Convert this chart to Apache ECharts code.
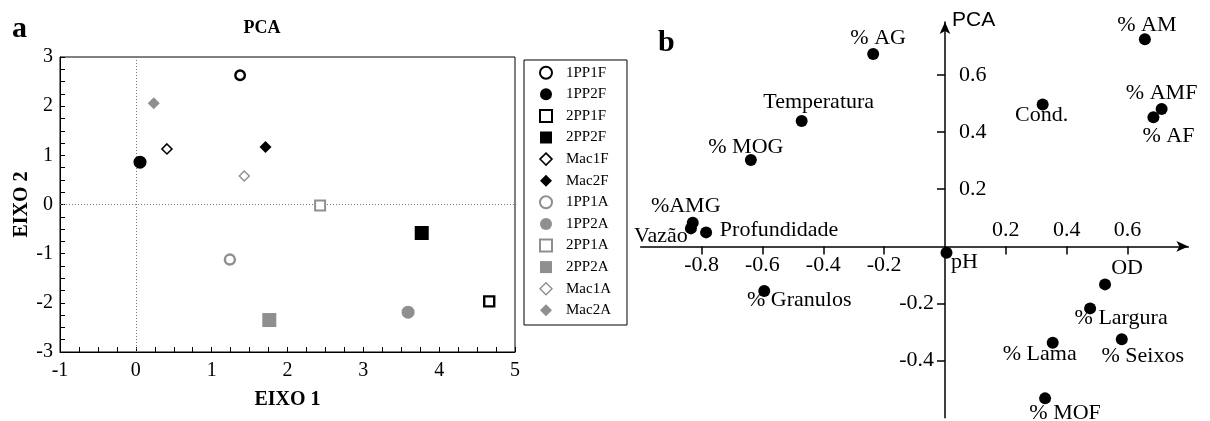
<!DOCTYPE html>
<html>
<head>
<meta charset="utf-8">
<script src="https://cdn.jsdelivr.net/npm/echarts@6/dist/echarts.min.js"></script>
<style>
  html, body { margin: 0; padding: 0; background: #fff; }
  #chart { width: 1210px; height: 421px; }
</style>
</head>
<body>
<div id="chart"></div>
<script>
// ---- Panel a: sample scores on the first two PCA axes ----
const amostras = ['1PP1F', '1PP2F', '2PP1F', '2PP2F', 'Mac1F', 'Mac2F',
                  '1PP1A', '1PP2A', '2PP1A', '2PP2A', 'Mac1A', 'Mac2A'];
const eixo1 = [1.375, 0.055, 4.66, 3.77, 0.41, 1.71, 1.24, 3.59, 2.43, 1.76, 1.43, 0.236];
const eixo2 = [2.63, 0.86, -1.97, -0.58, 1.13, 1.17, -1.12, -2.19, -0.02, -2.35, 0.58, 2.06];

// ---- Panel b: variable loadings ----
const variaveis = ['% AG', 'Temperatura', '% MOG', '%AMG', 'Vazão', 'Profundidade', '% Granulos',
                   'pH', '% AM', 'Cond.', '% AMF', '% AF', 'OD', '% Largura', '% Lama', '% Seixos', '% MOF'];
const carga1 = [-0.236, -0.471, -0.638, -0.829, -0.835, -0.785, -0.594,
                0.005, 0.657, 0.321, 0.712, 0.685, 0.526, 0.477, 0.354, 0.581, 0.329];
const carga2 = [0.673, 0.439, 0.302, 0.083, 0.063, 0.049, -0.156,
                -0.022, 0.725, 0.497, 0.481, 0.452, -0.133, -0.217, -0.337, -0.325, -0.532];

// tick values for panel b axes
const ticksXNeg = [-0.8, -0.6, -0.4, -0.2];
const ticksXPos = [0.2, 0.4, 0.6];
const ticksYNeg = [-0.4, -0.2];
const ticksYPos = [0.2, 0.4, 0.6];

// ---- styling ----
const SERIF = 'Liberation Serif';
const SANS = 'Liberation Sans';
const GREY = '#8f8f8f';

// marker look for each sample (symbol, fill colour, stroke colour, size, stroke width)
const markerStyles = [
  ['circle', '#fff', '#000', 9.5, 2.4],
  ['circle', '#000', '#000', 13, 0],
  ['rect', '#fff', '#000', 10, 2.4],
  ['rect', '#000', '#000', 14, 0],
  ['diamond', '#fff', '#000', 10, 1.6],
  ['diamond', '#000', '#000', 12, 0],
  ['circle', '#fff', GREY, 10, 2.4],
  ['circle', GREY, GREY, 13, 0],
  ['rect', '#fff', GREY, 10, 2],
  ['rect', GREY, GREY, 14, 0],
  ['diamond', '#fff', GREY, 10, 1.4],
  ['diamond', GREY, GREY, 12, 0]
];

// label placement around each loading point [dx, dy]
const labelShift = [
  [5, -16], [17, -19], [-5, -13], [-7, -16], [-30, 8], [73, -2], [35, 9],
  [18, 10], [2, -14], [-1, 11], [0, -16], [15, 19], [22, -16], [31, 10],
  [-13, 12], [21, 17], [20, 15]
];

// distance of the panel b tick labels from the axis lines crossing at the origin
const GAP_X_NEG = 8, GAP_X_POS = 5, GAP_Y_NEG = 11, GAP_Y_POS = 14;

const fmt = v => (Math.round(v * 10) / 10).toFixed(1);

const sampleSeries = amostras.map((name, i) => {
  const [sym, fill, stroke, size, bw] = markerStyles[i];
  const s = {
    name: name,
    type: 'scatter',
    xAxisIndex: 0,
    yAxisIndex: 0,
    symbol: sym,
    symbolSize: size,
    itemStyle: { color: fill, borderColor: stroke, borderWidth: bw, opacity: 1 },
    emphasis: { disabled: true },
    data: [[eixo1[i], eixo2[i]]],
    z: 3
  };
  if (i === 0) {
    s.markLine = {
      silent: true,
      symbol: 'none',
      label: { show: false },
      lineStyle: { color: '#777', type: [1, 2], width: 1 },
      data: [{ xAxis: 0 }, { yAxis: 0 }],
      z: 1
    };
  }
  return s;
});

const legendData = amostras.map((name, i) => {
  const [sym, fill, stroke, size, bw] = markerStyles[i];
  return {
    name: name,
    icon: sym,
    itemStyle: { color: fill, borderColor: stroke, borderWidth: bw > 0 ? Math.min(bw, 2) : 0 }
  };
});

const loadingData = variaveis.map((name, i) => ({
  name: name,
  value: [carga1[i], carga2[i]]
}));

const chart = echarts.init(document.getElementById('chart'), null, { renderer: 'canvas' });

const labelFont = { fontFamily: SERIF, fontSize: 22, color: '#000' };

chart.setOption({
  animation: false,
  backgroundColor: '#fff',
  title: [
    { text: 'a', left: 12, top: 14, padding: 0, textStyle: { fontFamily: SERIF, fontWeight: 'bold', fontSize: 30, color: '#000' } },
    { text: 'PCA', left: 262, top: 19, padding: 0, textAlign: 'center', textStyle: { fontFamily: SERIF, fontWeight: 'bold', fontSize: 18, color: '#000' } },
    { text: 'b', left: 658, top: 28, padding: 0, textStyle: { fontFamily: SERIF, fontWeight: 'bold', fontSize: 30, color: '#000' } },
    { text: 'PCA', left: 952, top: 10, padding: 0, textStyle: { fontFamily: SANS, fontWeight: 'normal', fontSize: 21, color: '#000' } }
  ],
  legend: {
    orient: 'vertical',
    left: 524,
    top: 60,
    padding: [5.2, 16, 7.2, 15],
    itemWidth: 12,
    itemHeight: 12,
    itemGap: 6.6,
    borderColor: '#000',
    borderWidth: 1,
    selectedMode: false,
    textStyle: { fontFamily: SERIF, fontSize: 15, color: '#000', padding: [0, 0, 0, 9] },
    data: legendData
  },
  grid: [
    { left: 60, right: 695, top: 57, bottom: 69, show: true, borderColor: '#000', borderWidth: 1,
      backgroundColor: 'transparent', containLabel: false, outerBoundsMode: 'none' },
    { left: 640.7, right: 21.6, top: 22.1, bottom: 3.2, show: false, containLabel: false, outerBoundsMode: 'none' }
  ],
  xAxis: [
    {
      gridIndex: 0, type: 'value', min: -1, max: 5, interval: 1,
      name: 'EIXO 1', nameLocation: 'middle', nameGap: 38,
      nameTextStyle: { fontFamily: SERIF, fontWeight: 'bold', fontSize: 20, color: '#000' },
      axisLine: { show: true, onZero: false, lineStyle: { color: '#000', width: 1 } },
      axisTick: { show: true, inside: true, length: 5, lineStyle: { color: '#000' } },
      minorTick: { show: true, splitNumber: 4, length: 5, lineStyle: { color: '#000' } },
      axisLabel: { fontFamily: SERIF, fontSize: 20, color: '#000', margin: 9 },
      splitLine: { show: false }, minorSplitLine: { show: false }
    },
    {
      gridIndex: 1, type: 'value', min: -1, max: 0.8, interval: 0.2, position: 'bottom',
      axisLine: { show: true, onZero: true, onZeroAxisIndex: 1, symbol: ['none', 'arrow'], symbolSize: [8, 12],
                  lineStyle: { color: '#000', width: 1.5 } },
      axisTick: { show: true, inside: false, length: 8, customValues: ticksXNeg.concat(ticksXPos), lineStyle: { color: '#000', width: 1.5 } },
      axisLabel: Object.assign({ customValues: ticksXNeg, formatter: fmt, margin: 8 }, labelFont),
      splitLine: { show: false }
    },
    {
      gridIndex: 1, type: 'value', min: -1, max: 0.8, interval: 0.2, position: 'top',
      axisLine: { show: false, onZero: true, onZeroAxisIndex: 1 },
      axisTick: { show: false },
      axisLabel: Object.assign({ customValues: ticksXPos, formatter: fmt, margin: 5 }, labelFont),
      splitLine: { show: false }
    }
  ],
  yAxis: [
    {
      gridIndex: 0, type: 'value', min: -3, max: 3, interval: 1,
      name: 'EIXO 2', nameLocation: 'middle', nameGap: 28,
      nameTextStyle: { fontFamily: SERIF, fontWeight: 'bold', fontSize: 20, color: '#000' },
      axisLine: { show: true, onZero: false, lineStyle: { color: '#000', width: 1 } },
      axisTick: { show: true, inside: true, length: 5, lineStyle: { color: '#000' } },
      minorTick: { show: true, splitNumber: 4, length: 5, lineStyle: { color: '#000' } },
      axisLabel: { fontFamily: SERIF, fontSize: 20, color: '#000', margin: 7 },
      splitLine: { show: false }, minorSplitLine: { show: false }
    },
    {
      gridIndex: 1, type: 'value', min: -0.6, max: 0.785, interval: 0.2, position: 'left',
      axisLine: { show: true, onZero: true, onZeroAxisIndex: 1, symbol: ['none', 'arrow'], symbolSize: [8, 12],
                  lineStyle: { color: '#000', width: 1.5 } },
      axisTick: { show: true, inside: false, length: 8, customValues: ticksYNeg.concat(ticksYPos), lineStyle: { color: '#000', width: 1.5 } },
      axisLabel: Object.assign({ customValues: ticksYNeg, formatter: fmt, margin: 11 }, labelFont),
      splitLine: { show: false }
    },
    {
      gridIndex: 1, type: 'value', min: -0.6, max: 0.785, interval: 0.2, position: 'right',
      axisLine: { show: false, onZero: true, onZeroAxisIndex: 1 },
      axisTick: { show: false },
      axisLabel: Object.assign({ customValues: ticksYPos, formatter: fmt, margin: 14 }, labelFont),
      splitLine: { show: false }
    }
  ],
  series: sampleSeries.concat([
    {
      name: 'cargas',
      type: 'scatter',
      xAxisIndex: 1,
      yAxisIndex: 1,
      symbol: 'circle',
      symbolSize: 12,
      itemStyle: { color: '#000', opacity: 1 },
      emphasis: { disabled: true },
      label: Object.assign({ show: true, position: 'inside', formatter: p => p.name }, labelFont),
      labelLayout: p => ({
        dx: labelShift[p.dataIndex][0],
        dy: labelShift[p.dataIndex][1],
        hideOverlap: false
      }),
      data: loadingData,
      z: 3
    }
  ])
});

// Tick labels of an onZero axis stay at the grid edge, so shift them
// back next to the axis lines that cross at the origin.
const finder = { xAxisIndex: 1, yAxisIndex: 1 };
const origin = chart.convertToPixel(finder, [0, 0]);
const lowCorner = chart.convertToPixel(finder, [-1, -0.6]);
const highCorner = chart.convertToPixel(finder, [0.8, 0.785]);
const leftEdge = lowCorner[0], bottomEdge = lowCorner[1];
const rightEdge = highCorner[0], topEdge = highCorner[1];

chart.setOption({
  xAxis: [
    {},
    { axisLabel: { margin: (origin[1] + GAP_X_NEG) - bottomEdge } },
    { axisLabel: { margin: topEdge - (origin[1] - GAP_X_POS) } }
  ],
  yAxis: [
    {},
    { axisLabel: { margin: leftEdge - (origin[0] - GAP_Y_NEG) } },
    { axisLabel: { margin: (origin[0] + GAP_Y_POS) - rightEdge } }
  ]
});
</script>
</body>
</html>
